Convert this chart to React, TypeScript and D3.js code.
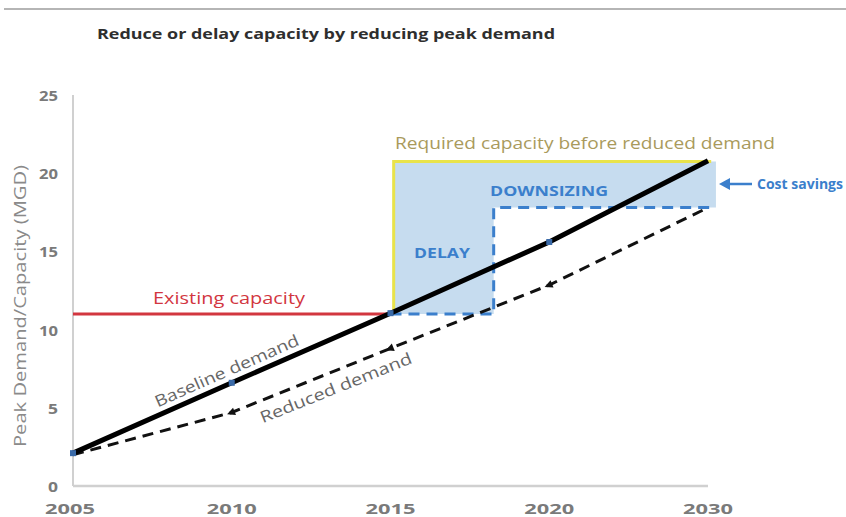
import React from "react";
import * as d3 from "d3";

const yearLabels = ["2005", "2010", "2015", "2020", "2030"];
const baselineDemand = [2.1, 6.6, 11.05, 15.6, 20.8];
const reducedDemand = [2.0, 4.7, 8.8, 12.85, 17.8];
const yTicks = [0, 5, 10, 15, 20, 25];
const existingCapacity = 11.0;
const requiredCapacity = 20.75;
const downsizedCapacity = 17.8;
// positions along the category index (0 = 2005 ... 4 = 2030)
const capacityNeededIndex = 2.02;
const delayedBuildIndex = 2.65;
const horizonIndex = 4.05;

const W = 846;
const H = 517;

export default function App() {
  const x = d3.scaleLinear().domain([0, 4]).range([73, 708]);
  const y = d3.scaleLinear().domain([0, 25]).range([486, 95]);

  const line = d3
    .line<number>()
    .x((_, i) => x(i))
    .y((d) => y(d));

  const fillPts: [number, number][] = [
    [capacityNeededIndex, requiredCapacity],
    [horizonIndex, requiredCapacity],
    [horizonIndex, downsizedCapacity],
    [delayedBuildIndex, downsizedCapacity],
    [delayedBuildIndex, existingCapacity],
    [capacityNeededIndex, existingCapacity],
  ];
  const area = d3
    .line<[number, number]>()
    .x((d) => x(d[0]))
    .y((d) => y(d[1]));

  const stepPts: [number, number][] = [
    [capacityNeededIndex - 0.02, existingCapacity],
    [delayedBuildIndex, existingCapacity],
    [delayedBuildIndex, downsizedCapacity],
    [horizonIndex, downsizedCapacity],
  ];
  const yellowPts: [number, number][] = [
    [capacityNeededIndex, existingCapacity],
    [capacityNeededIndex, requiredCapacity],
    [horizonIndex - 0.03, requiredCapacity],
  ];

  const angB =
    (Math.atan2(y(baselineDemand[2]) - y(baselineDemand[0]), x(2) - x(0)) * 180) / Math.PI;
  const angR =
    (Math.atan2(y(reducedDemand[3]) - y(reducedDemand[1]), x(3) - x(1)) * 180) / Math.PI;

  const grey = "#7a7a7a";
  const blue = "#3b7fcc";
  const font = "'Open Sans', 'DejaVu Sans', sans-serif";
  const sg = "spacingAndGlyphs" as const;

  return (
    <svg
      width={W}
      height={H}
      style={{ position: "absolute", left: 0, top: 0, background: "#fff" }}
      fontFamily={font}
    >
      <line x1={4} x2={W} y1={9} y2={9} stroke="#b5b5b5" strokeWidth={2} />
      <text
        x={97}
        y={39}
        fontSize={15}
        fontWeight={700}
        fill="#2e2e2e"
        textLength={458}
        lengthAdjust={sg}
      >
        Reduce or delay capacity by reducing peak demand
      </text>

      {/* fill */}
      <path d={area(fillPts)! + "Z"} fill="#c6dcef" />

      {/* axes */}
      <line x1={x(0)} x2={x(0)} y1={y(25)} y2={y(0)} stroke="#d0d0d0" strokeWidth={2} />
      <line x1={x(0)} x2={x(4)} y1={y(0)} y2={y(0)} stroke="#d0d0d0" strokeWidth={2.5} />
      {yTicks.map((t) => (
        <text
          key={t}
          x={58}
          y={y(t) + 6}
          textAnchor="end"
          fontSize={15}
          fontWeight={700}
          fill={grey}
          textLength={t >= 10 ? 19 : 10}
          lengthAdjust={sg}
        >
          {t}
        </text>
      ))}
      {yearLabels.map((l, i) => (
        <text
          key={l}
          x={x(i) - (i === 0 ? 3 : 0)}
          y={514}
          textAnchor="middle"
          fontSize={15}
          fontWeight={700}
          fill={grey}
          textLength={50}
          lengthAdjust={sg}
        >
          {l}
        </text>
      ))}
      <text
        transform={`translate(26,${306}) rotate(-90)`}
        textAnchor="middle"
        fontSize={17}
        fill="#8a8a8a"
        textLength={282}
        lengthAdjust={sg}
      >
        Peak Demand/Capacity (MGD)
      </text>

      {/* existing capacity */}
      <line
        x1={x(0)}
        x2={x(2)}
        y1={y(existingCapacity)}
        y2={y(existingCapacity)}
        stroke="#d2363f"
        strokeWidth={3}
      />
      <text
        x={153}
        y={304}
        fontSize={16}
        fill="#d2363f"
        textLength={152}
        lengthAdjust={sg}
      >
        Existing capacity
      </text>

      {/* required capacity */}
      <path d={area(yellowPts)!} fill="none" stroke="#e9e34a" strokeWidth={3} />
      <text
        x={395}
        y={149}
        fontSize={16}
        fill="#a99a5c"
        textLength={380}
        lengthAdjust={sg}
      >
        Required capacity before reduced demand
      </text>

      {/* downsized step */}
      <path
        d={area(stepPts)!}
        fill="none"
        stroke={blue}
        strokeWidth={3}
        strokeDasharray="11,7"
      />

      {/* reduced demand */}
      <path
        d={line(reducedDemand)!}
        fill="none"
        stroke="#111"
        strokeWidth={3}
        strokeDasharray="11,7"
      />
      {reducedDemand.slice(1, 4).map((d, i) => (
        <path
          key={i}
          d="M-5,0 L3,-4 L3,4 Z"
          transform={`translate(${x(i + 1)},${y(d)}) rotate(${angR})`}
          fill="#111"
        />
      ))}

      {/* baseline demand */}
      <path d={line(baselineDemand)!} fill="none" stroke="#000" strokeWidth={5} />
      {baselineDemand.slice(0, 4).map((d, i) => (
        <rect
          key={i}
          x={x(i) - 3}
          y={y(d) - 3}
          width={6}
          height={6}
          fill="#3a6aa8"
        />
      ))}

      {/* labels */}
      <text
        transform={`translate(229,376) rotate(${angB})`}
        textAnchor="middle"
        fontSize={16}
        fill="#666"
        textLength={156}
        lengthAdjust={sg}
      >
        Baseline demand
      </text>
      <text
        transform={`translate(338,393) rotate(${angR})`}
        textAnchor="middle"
        fontSize={16}
        fill="#666"
        textLength={162}
        lengthAdjust={sg}
      >
        Reduced demand
      </text>
      <text
        x={490}
        y={196}
        fontSize={14}
        fontWeight={700}
        fill={blue}
        textLength={118}
        lengthAdjust={sg}
      >
        DOWNSIZING
      </text>
      <text
        x={414}
        y={258}
        fontSize={14}
        fontWeight={700}
        fill={blue}
        textLength={56}
        lengthAdjust={sg}
      >
        DELAY
      </text>
      <line x1={726} x2={752} y1={184} y2={184} stroke={blue} strokeWidth={2.5} />
      <path d="M719,184 L730,178 L730,190 Z" fill={blue} />
      <text x={757} y={189} fontSize={14} fontWeight={700} fill={blue}>
        Cost savings
      </text>
    </svg>
  );
}
